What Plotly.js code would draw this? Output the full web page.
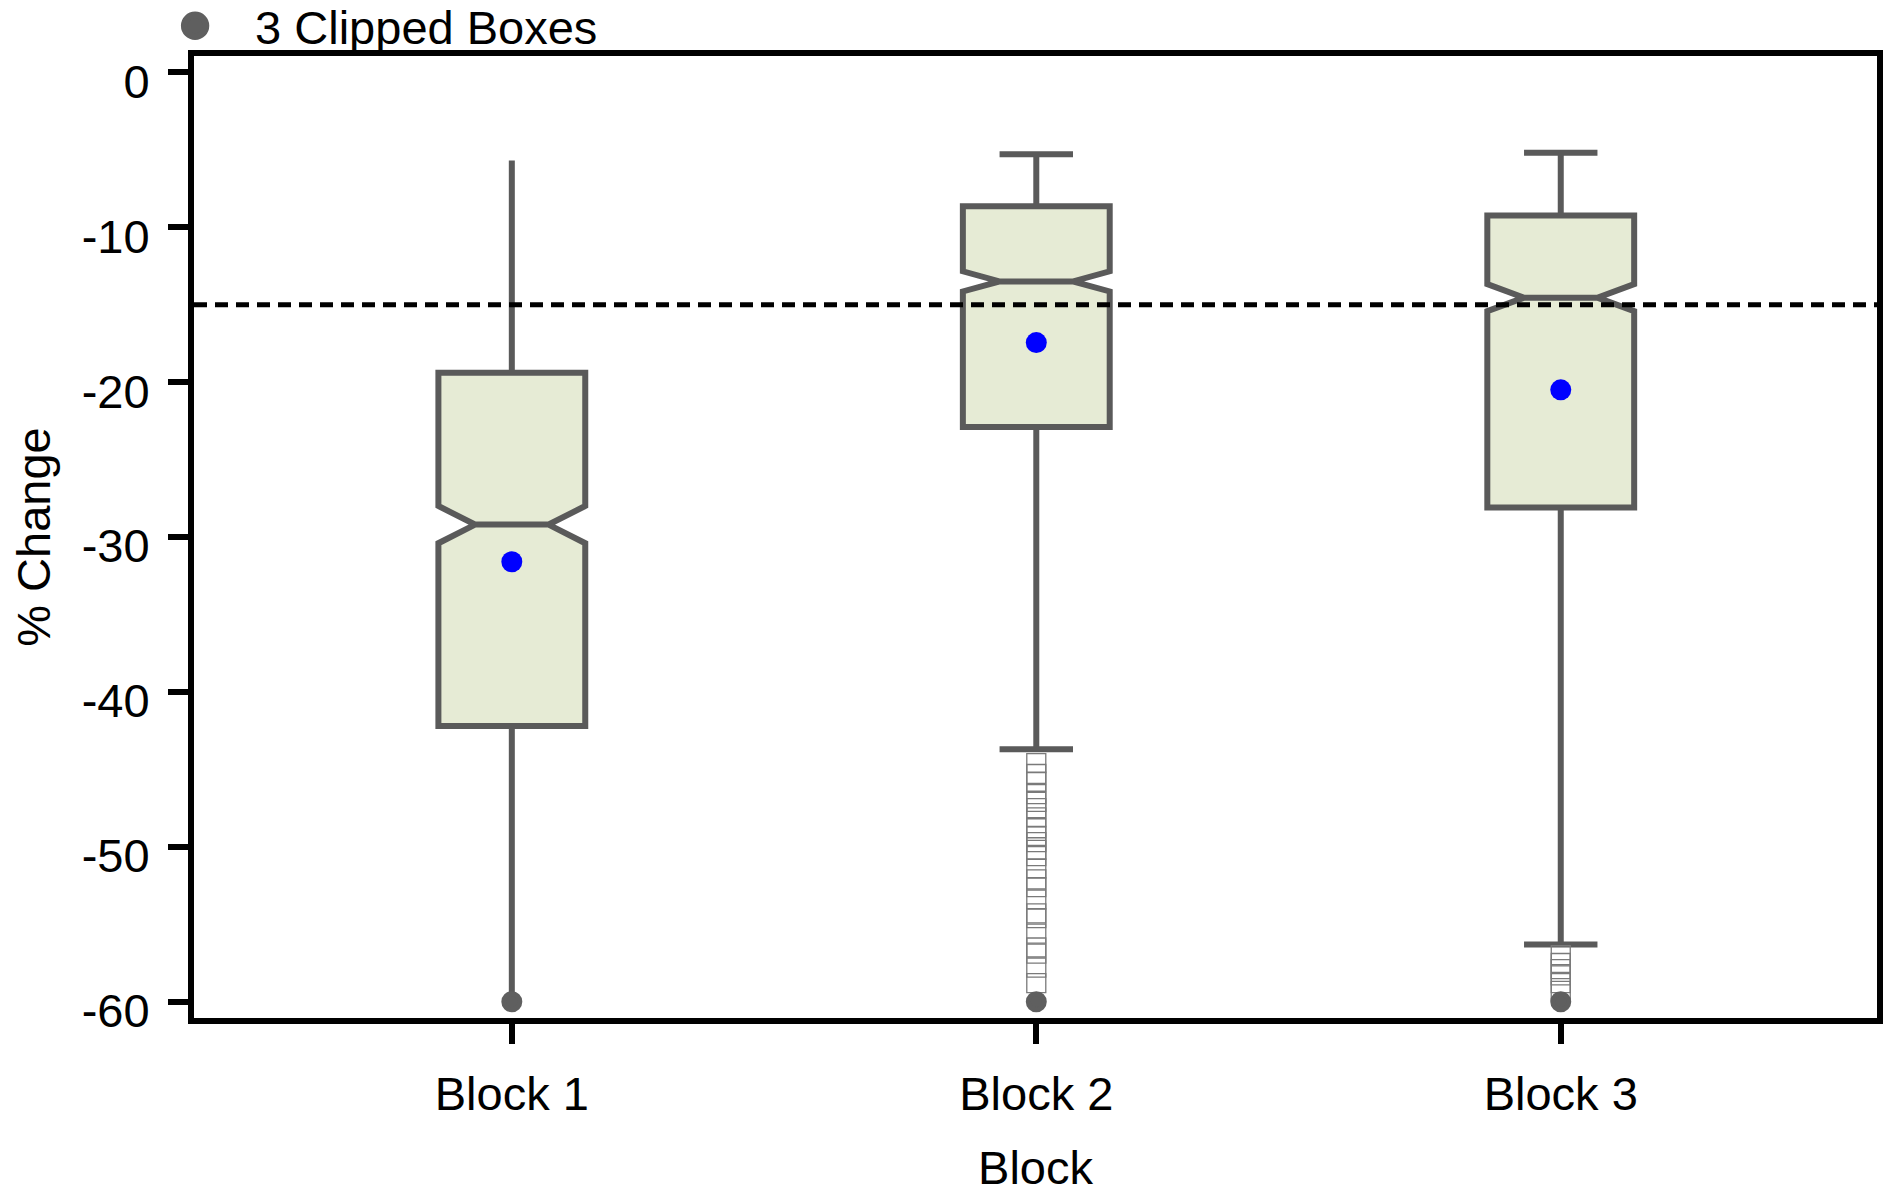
<!DOCTYPE html>
<html>
<head>
<meta charset="utf-8">
<script src="https://cdn.plot.ly/plotly-3.0.1.min.js"></script>
<style>html,body{margin:0;padding:0;background:#fff;}#chart{width:1889px;height:1194px;}</style>
</head>
<body>
<div id="chart"></div>
<script>
// ---- data ----
var blocks = ['Block 1', 'Block 2', 'Block 3'];
var q1 = [-42.2, -22.9, -28.1];
var median = [-29.2, -13.5, -14.55];
var q3 = [-19.4, -8.65, -9.25];
var lowerFence = [-60, -43.7, -56.3];
var upperFence = [-5.7, -5.3, -5.2];
var notchSpan = [1.2, 0.65, 0.87];
var means = [-31.6, -17.45, -20.5];
var outliersBlock2 = [-44.6, -45.3, -45.8, -46.6, -47.1, -47.5, -48.1, -48.8, -49.3, -49.7, -50.2, -50.6, -51.4, -52.1, -52.6, -53.4, -54.3, -54.6, -55.6, -56.5, -56.9, -57.8, -58.8];
var outliersBlock3 = [-57.0, -57.5, -57.9, -58.3, -58.8, -59.3];
var clippedY = [-60, -60, -60];
var referenceLine = -15;
var yTicks = [0, -10, -20, -30, -40, -50, -60];

// ---- styles ----
var boxLine = '#5a5a5a';
var boxFill = '#e6ebd5';
var FONT = 'Arial, "Liberation Sans", Helvetica, sans-serif';
var FS = 47;

var traces = [];
for (var i = 0; i < blocks.length; i++) {
  traces.push({
    type: 'box',
    x: [blocks[i]],
    q1: [q1[i]], median: [median[i]], q3: [q3[i]],
    lowerfence: [lowerFence[i]], upperfence: [upperFence[i]],
    notched: true, notchspan: [notchSpan[i]], notchwidth: 0.25,
    width: 0.28,
    whiskerwidth: i === 0 ? 0 : 0.5,
    fillcolor: boxFill,
    line: {color: boxLine, width: 6},
    boxpoints: false,
    hoverinfo: 'skip',
    showlegend: false
  });
}
traces.push({
  type: 'scatter', mode: 'markers',
  x: outliersBlock2.map(function(){return blocks[1];}), y: outliersBlock2,
  marker: {symbol: 'square-open', size: 19, color: '#7a7a7a', line: {width: 1.3}},
  showlegend: false, hoverinfo: 'skip'
});
traces.push({
  type: 'scatter', mode: 'markers',
  x: outliersBlock3.map(function(){return blocks[2];}), y: outliersBlock3,
  marker: {symbol: 'square-open', size: 19, color: '#7a7a7a', line: {width: 1.3}},
  showlegend: false, hoverinfo: 'skip'
});
traces.push({
  type: 'scatter', mode: 'markers',
  x: blocks, y: means,
  marker: {symbol: 'circle', size: 21, color: '#0000ff'},
  showlegend: false, hoverinfo: 'skip'
});
traces.push({
  type: 'scatter', mode: 'markers',
  x: blocks, y: clippedY,
  name: '3 Clipped Boxes',
  marker: {symbol: 'circle', size: 16, color: '#5f5f5f', line: {color: '#5f5f5f', width: 5}},
  cliponaxis: false,
  showlegend: true, hoverinfo: 'skip'
});

var layout = {
  width: 1889, height: 1194,
  margin: {l: 194, r: 12, t: 56, b: 176, pad: 0, autoexpand: false},
  paper_bgcolor: '#ffffff', plot_bgcolor: '#ffffff',
  font: {family: FONT, size: FS, color: '#000000'},
  showlegend: true,
  legend: {
    x: -0.035, xanchor: 'left', y: 1.031, yanchor: 'middle',
    orientation: 'h', itemwidth: 110,
    font: {family: FONT, size: FS, color: '#000'},
    bgcolor: 'rgba(0,0,0,0)', borderwidth: 0
  },
  xaxis: {
    type: 'category',
    range: [-0.606, 2.603],
    automargin: true,
    showline: true, linecolor: '#000', linewidth: 6, mirror: true,
    showgrid: false, zeroline: false,
    ticks: 'outside', ticklen: 20, tickwidth: 6, tickcolor: '#000',
    tickfont: {family: FONT, size: FS, color: '#000'},
    ticklabelstandoff: 10,
    title: {text: 'Block', font: {family: FONT, size: FS, color: '#000'}, standoff: 38}
  },
  yaxis: {
    range: [-61.05, 1.05],
    tickvals: yTicks, ticktext: yTicks.map(String),
    showline: true, linecolor: '#000', linewidth: 6, mirror: true,
    showgrid: false, zeroline: false,
    ticks: 'outside', ticklen: 20, tickwidth: 6, tickcolor: '#000',
    tickfont: {family: FONT, size: FS, color: '#000'},
    ticklabelshift: 9, ticklabelstandoff: 9,
    title: {text: '% Change', font: {family: FONT, size: FS, color: '#000'}, standoff: 18}
  },
  shapes: [{
    type: 'line', xref: 'paper', x0: 0, x1: 1, yref: 'y', y0: referenceLine, y1: referenceLine,
    line: {color: '#000', width: 5, dash: '13px,8px'}, layer: 'above'
  }]
};

Plotly.newPlot('chart', traces, layout, {displayModeBar: false, staticPlot: true}).then(function (gd) {
  // enlarge the legend symbol (Plotly caps legend marker size)
  var pts = gd.querySelectorAll('.legend .legendpoints path.scatterpts');
  pts.forEach(function (p) {
    var t = p.getAttribute('transform') || '';
    p.setAttribute('transform', t + ' scale(1.35)');
  });
});
</script>
</body>
</html>
